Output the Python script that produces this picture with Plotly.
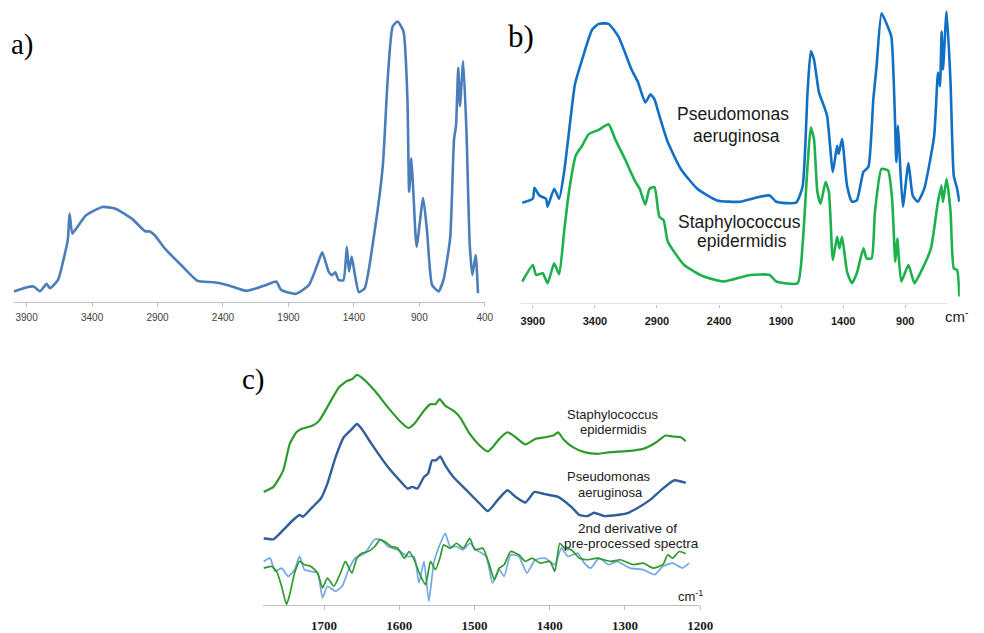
import plotly.graph_objects as go

W, H = 984, 633

# ---------------- Panel a: single spectrum (wavenumber, absorbance a.u.) -------------
a_wn = [3997, 3897, 3847, 3797, 3747, 3722, 3660, 3610, 3584, 3572, 3551, 3521, 3446,
        3321, 3221, 3096, 2995, 2958, 2920, 2845, 2720, 2594, 2469, 2369, 2219, 2068,
        1993, 1956, 1843, 1743, 1680, 1642, 1593, 1567, 1542, 1517, 1480, 1454, 1437,
        1417, 1392, 1362, 1317, 1242, 1179, 1142, 1104, 1066, 1021, 991, 978, 961, 946,
        921, 871, 841, 803, 753, 716, 665, 635, 620, 603, 590, 565, 540, 515, 495, 470, 452]
a_abs = [10.7, 15, 15.7, 11, 18.3, 14, 22.3, 47.3, 64, 89, 69, 74, 87.3,
         95.7, 94, 84, 71.3, 71, 67, 54, 37.3, 21.3, 20, 17.3, 11.3, 17.3,
         20.7, 12.3, 8.3, 17.3, 37.3, 50, 30.7, 27, 30, 22.3, 22, 55.7, 30.7,
         45.7, 27.3, 10, 14, 71, 137.3, 224, 277.3, 282.3, 272.3, 204, 111, 144.7, 111,
         55.7, 104.7, 71, 17.3, 10.7, 22.3, 64, 164, 177.3, 235.7, 197.3, 242.3, 171, 57.3, 27.3, 47.3, 9]

# ---------------- Panel b: two spectra ----------------
b_pa_wn = [3985, 3900, 3887, 3847, 3794, 3781, 3728, 3688, 3648, 3609, 3561, 3503, 3423,
           3370, 3290, 3211, 3105, 3052, 2994, 2952, 2920, 2880, 2813, 2708, 2575, 2416,
           2231, 2072, 1992, 1939, 1780, 1727, 1687, 1661, 1635, 1595, 1555, 1529, 1483,
           1449, 1436, 1409, 1369, 1330, 1290, 1237, 1197, 1157, 1131, 1091, 1052, 1012,
           985, 972, 958, 945, 919, 874, 840, 800, 747, 667, 636, 620, 607, 596, 567, 535,
           509, 482, 464]
b_pa_abs = [102, 106, 117, 109.3, 106, 98, 116, 106, 133, 173, 221, 246, 276,
            282, 282, 269.3, 236, 223, 203, 211, 206, 189.3, 163, 136, 116, 104.3,
            103, 108, 109.3, 103, 102, 118, 213, 254.3, 246, 213, 199.3, 189.3, 133,
            159.3, 151, 166, 119.3, 103, 104.3, 133, 138, 206, 239.3, 292.7, 282.7, 269.3,
            196, 143, 179.3, 149.3, 98, 142, 109.3, 103, 116, 169.3, 233, 219.3, 274.3, 236, 294.3, 223,
            129.3, 116, 103]

b_se_wn = [3985, 3900, 3874, 3820, 3781, 3728, 3688, 3648, 3609, 3555, 3503, 3450, 3370,
           3290, 3237, 3158, 3079, 3039, 2994, 2960, 2920, 2893, 2880, 2846, 2813, 2681,
           2522, 2363, 2151, 1992, 1939, 1767, 1727, 1687, 1661, 1635, 1608, 1582, 1542,
           1515, 1483, 1449, 1430, 1409, 1369, 1330, 1290, 1237, 1211, 1171, 1144, 1091,
           1038, 1006, 980, 964, 932, 874, 826, 773, 693, 641, 609, 596, 567, 535, 509, 482, 464]
b_se_abs = [22.7, 39.3, 29.3, 31, 21, 41, 30, 73, 113, 149.3, 159.3, 171, 175.3,
            181, 166, 146, 124.3, 116, 100, 116, 117.7, 96, 87.7, 84.3, 63, 39.3,
            27.7, 22.7, 29.3, 29.3, 22.7, 21, 59.3, 139.3, 177.7, 166, 113, 101, 122.7,
            112.7, 44.3, 67.7, 56, 67.7, 32.7, 21, 31, 56, 46, 46, 92.7, 136,
            134.3, 106, 42.7, 66, 22.7, 39.3, 21, 32.7, 56, 99.3, 119.3, 102.7, 126, 92.7, 36, 34.3, 7.7]

# ---------------- Panel c: amide region ----------------
c_se_wn = [1780.4, 1767.4, 1754.3, 1745.7, 1736.9, 1730.4, 1715.1, 1706.5, 1693.5, 1680.4,
           1669.5, 1662.9, 1656.4, 1649.9, 1632.5, 1615.1, 1597.7, 1588.1, 1580.3, 1567.2,
           1558.5, 1552.0, 1546.4, 1538.9, 1528.1, 1519.3, 1506.3, 1493.2, 1482.4, 1475.9,
           1467.1, 1456.3, 1445.4, 1432.4, 1419.3, 1406.3, 1395.3, 1388.8, 1382.2, 1369.2,
           1354.1, 1336.6, 1319.2, 1297.4, 1275.8, 1258.2, 1246.1, 1236.6, 1225.6, 1219.1]
c_se_abs = [114, 119, 135.7, 162.3, 174, 177.3, 180.7, 185.7, 202.3, 219,
            225.7, 227.3, 231.7, 229, 215.7, 199, 184, 178.3, 182.3, 195.7,
            202.3, 202.3, 207.3, 200.7, 195.7, 189, 172.3, 160.7, 154.7, 159,
            167.3, 174, 169, 161.7, 167.3, 169, 170.7, 174, 167.3, 159,
            154, 152.3, 154, 155, 157.3, 164, 170.7, 169.7, 169, 165]

c_pa_wn = [1780.4, 1767.4, 1754.3, 1741.2, 1732.6, 1728.2, 1715.1, 1704.3, 1695.6, 1684.7,
           1673.9, 1662.9, 1656.4, 1649.9, 1636.9, 1615.1, 1597.7, 1589.0, 1582.5, 1576.0,
           1567.2, 1561.8, 1556.4, 1551.1, 1545.6, 1539.0, 1528.1, 1510.7, 1493.2, 1482.4,
           1469.3, 1456.3, 1445.4, 1432.4, 1420.1, 1406.3, 1388.8, 1371.4, 1360.4, 1349.6,
           1341.0, 1328.0, 1310.4, 1297.4, 1284.3, 1267.0, 1249.6, 1234.3, 1219.1]
c_pa_abs = [67.3, 66.3, 75.7, 85.7, 90.7, 89, 99, 107.3, 122.3, 149,
            169, 177.3, 182.3, 177.3, 162.3, 139, 124, 117.3, 119, 117.3,
            129, 132.3, 145.7, 145.7, 149.7, 140.7, 129, 115.7, 102.3, 94.7,
            105.7, 115.7, 109, 103.3, 114, 111.7, 109, 99, 90.7, 89.7,
            93, 89.7, 90.7, 92.3, 97.3, 105.7, 117.3, 125.7, 123]

c_d2_se_wn = [1780.4, 1769.6, 1763.1, 1756.5, 1750.0, 1745.7, 1739.2, 1732.6, 1726.1, 1717.4,
              1708.6, 1702.1, 1695.6, 1687.0, 1678.2, 1671.7, 1663.0, 1656.4, 1649.9, 1641.3,
              1632.5, 1626.0, 1619.5, 1610.7, 1602.1, 1593.4, 1586.8, 1580.3, 1571.5, 1565.0,
              1558.5, 1552.0, 1545.4, 1541.1, 1532.4, 1523.8, 1515.0, 1506.3, 1499.7, 1488.9,
              1480.2, 1473.6, 1467.1, 1460.6, 1452.0, 1441.0, 1432.4, 1423.6, 1412.8, 1399.7,
              1393.2, 1386.7, 1380.2, 1371.4, 1360.6, 1349.6, 1336.6, 1319.2, 1306.1, 1288.8,
              1275.7, 1262.7, 1249.6, 1243.1, 1236.6, 1227.8, 1219.1]
c_d2_se = [37.3, 39, 34, 19, 0.7, 10.7, 32.3, 44, 40.7, 39,
           32.3, 17.3, 27.3, 19, 32.3, 44, 32.3, 47.3, 52.3, 54,
           59, 65.7, 64, 59, 57.3, 47.3, 54, 45.7, 29, 20.7,
           44, 35.7, 49, 60.7, 57.3, 62.3, 57.3, 67.3, 55.7, 57.3,
           40.7, 25.7, 37.3, 40.7, 54, 50.7, 44, 47.3, 42.3, 44,
           34, 62.3, 57.3, 55.7, 47.3, 45.7, 47.3, 44, 45.7, 40.7,
           42.3, 37.3, 40.7, 50.7, 47.3, 54, 51.7]

c_d2_pa_wn = [1780.4, 1771.8, 1765.3, 1756.5, 1747.8, 1739.2, 1732.6, 1726.1, 1717.4, 1708.6,
              1702.1, 1695.6, 1684.7, 1676.0, 1667.4, 1658.6, 1645.6, 1632.5, 1623.8, 1615.1,
              1602.1, 1589.0, 1580.3, 1573.8, 1567.2, 1560.7, 1554.2, 1545.4, 1538.9, 1532.4,
              1523.8, 1515.0, 1506.3, 1497.7, 1484.6, 1475.9, 1467.1, 1460.6, 1452.0, 1441.0,
              1430.2, 1419.3, 1406.3, 1393.2, 1384.5, 1375.7, 1362.7, 1354.1, 1345.3, 1334.5,
              1321.4, 1310.4, 1293.1, 1275.7, 1260.4, 1249.6, 1236.6, 1223.5, 1214.7]
c_d2_pa = [44, 47.3, 34, 37.3, 29, 35.7, 49, 35.7, 34, 32.3,
           7.3, 19, 14, 19, 35.7, 47.3, 52.3, 66.3, 65.7, 59,
           55.7, 49, 49, 22.3, 44, 4, 42.3, 62.3, 72.3, 59,
           59, 55.7, 62.3, 55.7, 49, 22.3, 35.7, 29, 50.7, 49,
           32.3, 45.7, 47.3, 40.7, 57.3, 49, 52.3, 42.3, 37.3, 47.3,
           40.7, 44, 37.3, 35.7, 30.7, 39, 42.3, 37.3, 42.3]

ticks_ab = [3900, 3400, 2900, 2400, 1900, 1400, 900, 400]
ticks_b = [3900, 3400, 2900, 2400, 1900, 1400, 900]
ticks_c = [1700, 1600, 1500, 1400, 1300, 1200]


def X(p):
    return p / W


def Y(p):
    return 1 - p / H


fig = go.Figure()
sp = dict(shape="spline", smoothing=0.5)

fig.add_trace(go.Scatter(x=a_wn, y=a_abs, mode="lines", xaxis="x", yaxis="y",
                         line=dict(color="#4A7EBB", width=2.6, **sp), showlegend=False))
fig.add_trace(go.Scatter(x=b_pa_wn, y=b_pa_abs, mode="lines", xaxis="x2", yaxis="y2",
                         line=dict(color="#1170C4", width=2.6, **sp), showlegend=False))
fig.add_trace(go.Scatter(x=b_se_wn, y=b_se_abs, mode="lines", xaxis="x2", yaxis="y2",
                         line=dict(color="#1DB14D", width=2.6, **sp), showlegend=False))
fig.add_trace(go.Scatter(x=c_se_wn, y=c_se_abs, mode="lines", xaxis="x3", yaxis="y3",
                         line=dict(color="#2E9A2C", width=2.2, **sp), showlegend=False))
fig.add_trace(go.Scatter(x=c_pa_wn, y=c_pa_abs, mode="lines", xaxis="x3", yaxis="y3",
                         line=dict(color="#2F5E98", width=2.4, **sp), showlegend=False))
fig.add_trace(go.Scatter(x=c_d2_pa_wn, y=c_d2_pa, mode="lines", xaxis="x3", yaxis="y3",
                         line=dict(color="#72A8E2", width=1.7, **sp), showlegend=False))
fig.add_trace(go.Scatter(x=c_d2_se_wn, y=c_d2_se, mode="lines", xaxis="x3", yaxis="y3",
                         line=dict(color="#2E9A2C", width=1.7, **sp), showlegend=False))

axcol = "#BFBFBF"
common_x = dict(showgrid=False, zeroline=False, ticks="outside", tickcolor=axcol, tickwidth=1)

fig.update_layout(
    width=W, height=H, margin=dict(l=0, r=0, t=0, b=0),
    paper_bgcolor="white", plot_bgcolor="rgba(0,0,0,0)",
    xaxis=dict(domain=[X(13.7), X(491.3)], range=[4000, 400], anchor="y",
               showline=True, linecolor=axcol, linewidth=1, ticklen=4,
               tickvals=ticks_ab, ticklabelstandoff=2,
               tickfont=dict(family="Liberation Sans", size=10, color="#404040"), **common_x),
    yaxis=dict(domain=[Y(304), Y(8)], range=[0, 296], visible=False, anchor="x"),
    xaxis2=dict(domain=[X(527.4), X(972.7)], range=[4000, 460], anchor="y2",
                showline=False, ticklen=3, tickvals=ticks_b, ticklabelstandoff=4,
                tickfont=dict(family="Liberation Sans", size=11, color="#1A1A1A", weight="bold"),
                **common_x),
    yaxis2=dict(domain=[Y(306), Y(8)], range=[0, 298], visible=False, anchor="x2"),
    xaxis3=dict(domain=[X(266.7), X(709.5)], range=[1781, 1200], anchor="y3",
                showline=True, linecolor=axcol, linewidth=1, ticklen=4,
                tickvals=ticks_c, ticklabelstandoff=4,
                tickfont=dict(family="Liberation Serif", size=13, color="#1A1A1A", weight="bold"),
                **common_x),
    yaxis3=dict(domain=[Y(609), Y(370)], range=[0, 239], visible=False, anchor="x3"),
)

# axis line for panel b ends before the plot area
fig.add_shape(type="line", xref="x2", yref="y2", x0=4000, x1=560, y0=0, y1=0,
              line=dict(color=axcol, width=1))

ann = []


def txt(s, x, y, size, family="Liberation Sans", xanchor="center", color="#1A1A1A"):
    ann.append(dict(text=s, x=X(x), y=Y(y), xref="paper", yref="paper", showarrow=False,
                    xanchor=xanchor, yanchor="middle",
                    font=dict(family=family, size=size, color=color)))


# panel letters
txt("a)", 9, 45, 29, family="Liberation Serif", xanchor="left", color="#000")
txt("b)", 513, 37, 31, family="Liberation Serif", xanchor="left", color="#000")
txt("c)", 243, 382, 29, family="Liberation Serif", xanchor="left", color="#000")

# panel b labels
txt("Pseudomonas", 743.3, 115, 17.5)
txt("aeruginosa", 746.3, 137, 17.5)
txt("Staphylococcus", 749.2, 223, 17.5)
txt("epidermidis", 751.7, 243, 17.5)
txt("cm<sup>-</sup>", 984, 318, 15, xanchor="right")

# panel c labels
txt("Staphylococcus", 621.3, 417.5, 13)
txt("epidermidis", 621.3, 432, 13)
txt("Pseudomonas", 617.3, 480, 13)
txt("aeruginosa", 619, 496, 13)
txt("2nd derivative of", 635.7, 531.7, 13.5)
txt("pre-processed spectra", 640.3, 547.3, 13.5)
txt("cm<sup>-1</sup>", 685, 600, 13, xanchor="left")

fig.update_layout(annotations=ann)
fig.write_html("out.html")
